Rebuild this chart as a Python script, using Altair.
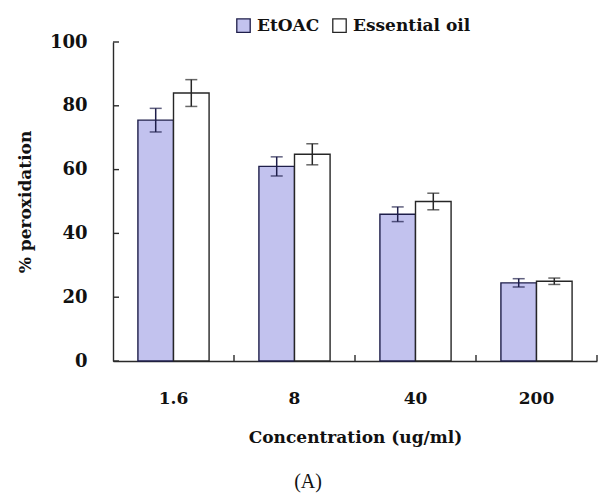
import altair as alt
import pandas as pd

# Concentrations and measured % peroxidation (mean ± error)
concentrations = ["1.6", "8", "40", "200"]
series_names = ["EtOAC", "Essential oil"]
etoac_values = [75.5, 61.0, 46.0, 24.5]
etoac_errors = [3.7, 3.0, 2.3, 1.3]
oil_values = [84.0, 64.8, 50.0, 25.0]
oil_errors = [4.2, 3.3, 2.6, 1.0]
y_ticks = [0, 20, 40, 60, 80, 100]

rows = []
for c, v, e in zip(concentrations, etoac_values, etoac_errors):
    rows.append({"conc": c, "series": "EtOAC", "value": v, "lo": v - e, "hi": v + e})
for c, v, e in zip(concentrations, oil_values, oil_errors):
    rows.append({"conc": c, "series": "Essential oil", "value": v, "lo": v - e, "hi": v + e})
df = pd.DataFrame(rows)

FONT = "DejaVu Serif"
AXIS_COLOR = "#2a2a2a"

x_scale = alt.Scale(domain=concentrations, paddingInner=0, paddingOuter=0)
y_scale = alt.Scale(domain=[0, 100], nice=False, zero=True)
off_scale = alt.Scale(domain=series_names, paddingInner=0, paddingOuter=0.7)

x_enc = alt.X(
    "conc:N",
    scale=x_scale,
    sort=concentrations,
    axis=alt.Axis(
        title="Concentration (ug/ml)",
        labelAngle=0,
        ticks=False,
        labelPadding=29,
        titlePadding=23,
        labelFont=FONT,
        labelFontSize=17,
        labelFontWeight="bold",
        labelColor="#111",
        titleFont=FONT,
        titleFontSize=17,
        titleFontWeight="bold",
        titleColor="#111",
        domainColor=AXIS_COLOR,
        domainWidth=1.4,
    ),
)
off_enc = alt.XOffset("series:N", scale=off_scale, sort=series_names)
y_axis = alt.Axis(
    title="% peroxidation",
    values=y_ticks,
    ticks=False,
    grid=False,
    labelPadding=26,
    titlePadding=15,
    labelFont=FONT,
    labelFontSize=18,
    labelFontWeight="bold",
    labelColor="#111",
    titleFont=FONT,
    titleFontSize=17,
    titleFontWeight="bold",
    titleColor="#111",
    domainColor=AXIS_COLOR,
    domainWidth=1.4,
)

fill_scale = alt.Scale(domain=series_names, range=["#c2c2ee", "#ffffff"])
stroke_scale = alt.Scale(domain=series_names, range=["#1e1e4a", "#262626"])

base = alt.Chart(df)

bars = base.mark_bar(strokeWidth=1.4).encode(
    x=x_enc,
    xOffset=off_enc,
    y=alt.Y("value:Q", scale=y_scale, axis=y_axis),
    fill=alt.Fill(
        "series:N",
        scale=fill_scale,
        sort=series_names,
        legend=alt.Legend(
            title=None,
            orient="none",
            legendX=122,
            legendY=-25,
            direction="horizontal",
            symbolType="square",
            symbolSize=180,
            symbolStrokeColor="#222",
            symbolStrokeWidth=1.3,
            symbolOpacity=1,
            labelFont=FONT,
            labelFontSize=17,
            labelFontWeight="bold",
            labelColor="#111",
            labelOffset=5,
            columnPadding=10,
            padding=0,
        ),
    ),
    stroke=alt.Stroke("series:N", scale=stroke_scale, legend=None),
)

err_lines = base.mark_rule(strokeWidth=1.5).encode(
    x=alt.X("conc:N", scale=x_scale, sort=concentrations),
    xOffset=off_enc,
    y=alt.Y("lo:Q", scale=y_scale),
    y2="hi:Q",
    stroke=alt.Stroke("series:N", scale=stroke_scale, legend=None),
)
cap_lo = base.mark_tick(orient="horizontal", size=12, thickness=1.5).encode(
    x=alt.X("conc:N", scale=x_scale, sort=concentrations),
    xOffset=off_enc,
    y=alt.Y("lo:Q", scale=y_scale),
    color=alt.Color("series:N", scale=stroke_scale, legend=None),
)
cap_hi = base.mark_tick(orient="horizontal", size=12, thickness=1.5).encode(
    x=alt.X("conc:N", scale=x_scale, sort=concentrations),
    xOffset=off_enc,
    y=alt.Y("hi:Q", scale=y_scale),
    color=alt.Color("series:N", scale=stroke_scale, legend=None),
)

# Inward tick marks on both axes
x_tick_df = pd.DataFrame({"conc": concentrations})
x_ticks = alt.Chart(x_tick_df).mark_rule(color=AXIS_COLOR, strokeWidth=1.4).encode(
    x=alt.X("conc:N", scale=x_scale, sort=concentrations, bandPosition=1),
    y=alt.value(319),
    y2=alt.value(313),
)
y_tick_df = pd.DataFrame({"v": y_ticks})
y_tick_marks = alt.Chart(y_tick_df).mark_rule(color=AXIS_COLOR, strokeWidth=1.4).encode(
    y=alt.Y("v:Q", scale=y_scale),
    x=alt.value(0),
    x2=alt.value(6),
)

panel_label = alt.Chart(pd.DataFrame({"t": ["(A)"]})).mark_text(
    font="Liberation Serif", fontSize=20, color="#111", baseline="top", align="center"
).encode(text="t:N", x=alt.value(195), y=alt.value(430))

chart = (
    alt.layer(bars, err_lines, cap_lo, cap_hi, x_ticks, y_tick_marks, panel_label)
    .properties(
        width=484,
        height=319,
        padding={"left": 113, "top": 42, "right": 1, "bottom": 133},
        autosize=alt.AutoSizeParams(type="none"),
        background="white",
    )
    .configure_view(stroke=None)
)

chart.save("out.html", embed_options={"renderer": "svg", "actions": False})
